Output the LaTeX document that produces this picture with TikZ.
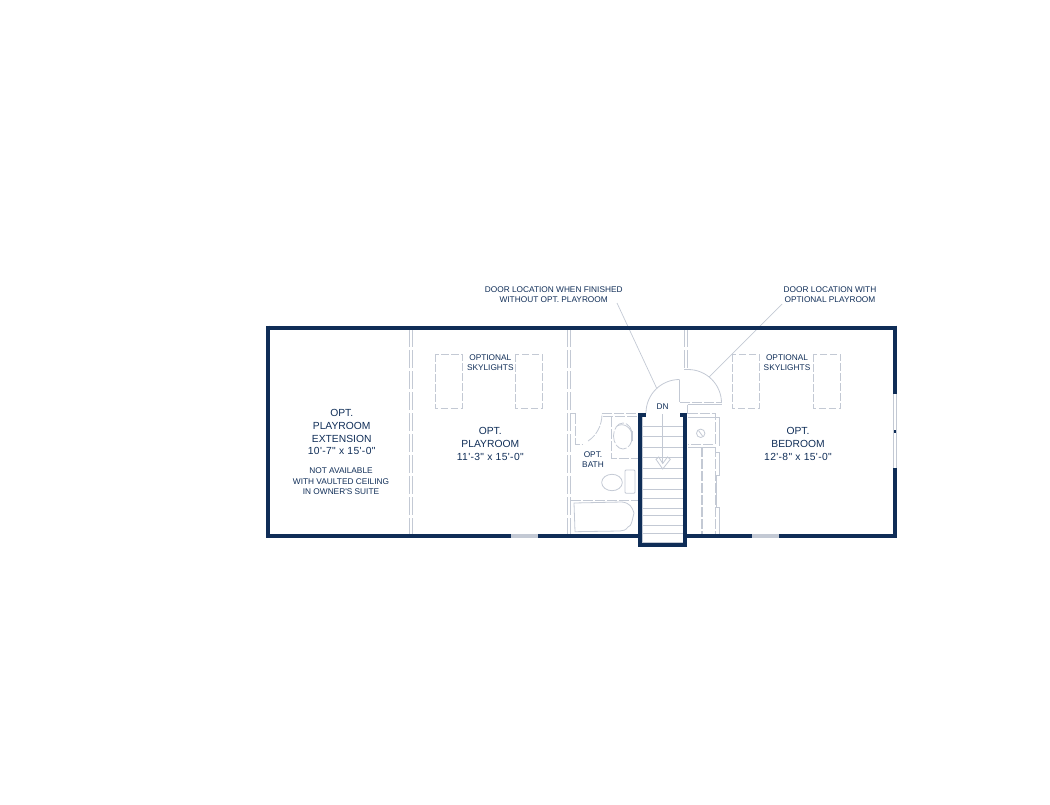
\documentclass[tikz,border=0pt]{standalone}
\usepackage{fontspec}
\newfontfamily\lib{Liberation Sans}
\newfontfamily\libw[LetterSpace=3.5]{Liberation Sans}
\definecolor{navy}{HTML}{0F2D57}
\definecolor{pale}{HTML}{C3C9D4}
\tikzset{
  wall/.style={draw=navy,line width=4pt},
  sky/.style={draw=pale,line width=0.8pt,dash pattern=on 7.5pt off 2.5pt},
  dsh/.style={draw=pale,line width=0.8pt,dash pattern=on 18pt off 3pt},
  closet/.style={draw=pale,line width=0.8pt,dash pattern=on 10pt off 2pt},
  solidthin/.style={draw=pale,line width=0.8pt},
  leader/.style={draw=pale,line width=0.7pt},
  gapline/.style={draw=pale,line width=4pt},
  bigtext/.style={text=navy,font=\lib\fontsize{10.3}{12.7}\selectfont,align=center,inner sep=0pt},
  smalltext/.style={text=navy,font=\lib\fontsize{8.3}{10.2}\selectfont,align=center,inner sep=0pt}
}
\begin{document}
\begin{tikzpicture}[x=1pt,y=-1pt]
\useasboundingbox (0,0) rectangle (1050,805);
% thin walls
\foreach \x in {409,412.5,567,570.5}{\draw[dsh] (\x,329)--(\x,534);}
\draw[dsh] (684,329)--(684,369.5);
\draw[dsh] (687.5,329)--(687.5,369.5);
% skylights
\foreach \x in {435,515.3,732.3,813.3}{\draw[sky] (\x,354.3) rectangle (\x+27.5,408.7);}
% door arcs
\draw[solidthin] (679.5,379.5) arc[start angle=-90,end angle=-180,radius=33.5];
\draw[solidthin,line width=1.6pt] (679.3,380)--(679.3,402);
\draw[solidthin] (684,369.5) -- (688,369.5) arc[start angle=-90,end angle=0,radius=33.5];
\draw[closet] (680,402.5)--(722,402.5);
\draw[solidthin] (687.5,404.5)--(722,404.5);
\draw[solidthin] (687.5,404.5)--(687.5,414);
% bath walls
\draw[closet] (602,413.5)--(638,413.5);
\draw[closet] (603,416.7)--(638,416.7);
\draw[solidthin] (571,413.5)--(576,413.5);
\draw[closet] (575.7,414)--(575.7,444)--(582,444);
\draw[solidthin,dash pattern=on 9pt off 1.5pt] (588,441) .. controls (596,436) and (602,426) .. (602,414);
% toilet
\draw[closet] (611.5,417)--(611.5,458)--(638,458);
\draw[solidthin,dash pattern=on 12pt off 2pt] (623,436) ellipse[x radius=9.5,y radius=13];
\draw[solidthin] (617,426) .. controls (624,422) and (632,428) .. (632,436);
\draw[solidthin,line width=1.8pt] (632,431)--(632,441);
% sink
\draw[solidthin] (612,482.5) ellipse[x radius=10.3,y radius=8.2];
\draw[solidthin,rounded corners=1pt] (625,470) rectangle (635,493.3);
% tub
\draw[closet] (571,500)--(638,500);
\draw[solidthin] (574,503) -- (622,502) .. controls (630,503) and (632,507) .. (634,513) .. controls (632,520) and (632,526) .. (628,527) .. controls (626,530) and (623,531) .. (620,531) -- (575,531.7) -- cycle;
% right closet
\draw[closet] (687.5,413.5)--(715,413.5)--(715,444.3)--(687.5,444.3);
\draw[solidthin] (687.5,417)--(719,417)--(719,446);
\draw[solidthin] (687.5,447.3)--(715,447.3);
\draw[closet,line width=1.4pt] (702,447.3)--(702,534);
\draw[closet] (715,447.3)--(715,534);
\draw[solidthin] (715,452)--(719.5,452)--(719.5,475)--(716.5,475)--(716.5,507)--(719.5,507)--(719.5,534);
\draw[solidthin] (700.7,433.3) circle[radius=4.2];
\draw[solidthin] (698.5,430.5)--(702.5,436);
% stairs treads
\foreach \y in {426,436.7,447,457.7,468,478.3,489,498.5,508,515.5,525,533.5}{\draw[solidthin] (642,\y)--(683.5,\y);}
\draw[solidthin] (642.7,417)--(642.7,542)--(682.9,542)--(682.9,417);
\draw[solidthin] (662.7,414)--(662.7,463);
\draw[solidthin] (656,459.3)--(662.7,469)--(670.3,459.3)--(667.5,457)--(662.7,463.5)--(658.7,457)--cycle;
% leaders
\coordinate (la) at (617,303);
\coordinate (lb) at (656.7,388.3);
\coordinate (lc) at (782,304);
\coordinate (ld) at (709,377);
\draw[leader] (la)--(lb);
\draw[leader] (lc)--(ld);
% main walls
\draw[wall] (266,327.5)--(897,327.5);
\draw[wall] (268.3,325.5)--(268.3,537.7);
\draw[wall] (266,535.7)--(641,535.7);
\draw[wall] (686,535.7)--(897,535.7);
\draw[wall] (894.8,325.5)--(894.8,394);
\draw[wall] (894.8,468.3)--(894.8,537.7);
\draw[wall,line width=2.7pt] (892.8,431.3)--(897,431.3);
\draw[solidthin] (893.5,394)--(893.5,468.3) (896.7,394)--(896.7,468.3);
\draw[gapline] (511,535.7)--(538,535.7);
\draw[gapline] (752,535.7)--(778.5,535.7);
% stair walls
\draw[wall] (640.3,413.3)--(640.3,544.7)--(685.3,544.7)--(685.3,413.3);
\draw[wall] (638.3,415.3)--(646,415.3);
\draw[wall] (680,415.3)--(687.3,415.3);
% text
\node[smalltext] (a) at (553.7,294.5) {DOOR LOCATION WHEN FINISHED\\WITHOUT OPT. PLAYROOM};
\node[smalltext] (b) at (830,294.5) {DOOR LOCATION WITH\\OPTIONAL PLAYROOM};
\node[smalltext] (c) at (490.3,362.5) {OPTIONAL\\SKYLIGHTS};
\node[smalltext] (d) at (787,362.5) {OPTIONAL\\SKYLIGHTS};
\node[smalltext] (e) at (662.5,406.5) {DN};
\node[smalltext] (f) at (593,459.5) {OPT.\\BATH};
\node[bigtext] (g) at (341.7,432.3) {OPT.\\PLAYROOM\\EXTENSION\\{\libw 10'-7" x 15'-0"}};
\node[smalltext] (h) at (341,481.3) {NOT AVAILABLE\\WITH VAULTED CEILING\\IN OWNER'S SUITE};
\node[bigtext] (i) at (490.3,443.8) {OPT.\\PLAYROOM\\{\libw 11'-3" x 15'-0"}};
\node[bigtext] (j) at (798,443.8) {OPT.\\BEDROOM\\{\libw 12'-8" x 15'-0"}};
\end{tikzpicture}
\end{document}
